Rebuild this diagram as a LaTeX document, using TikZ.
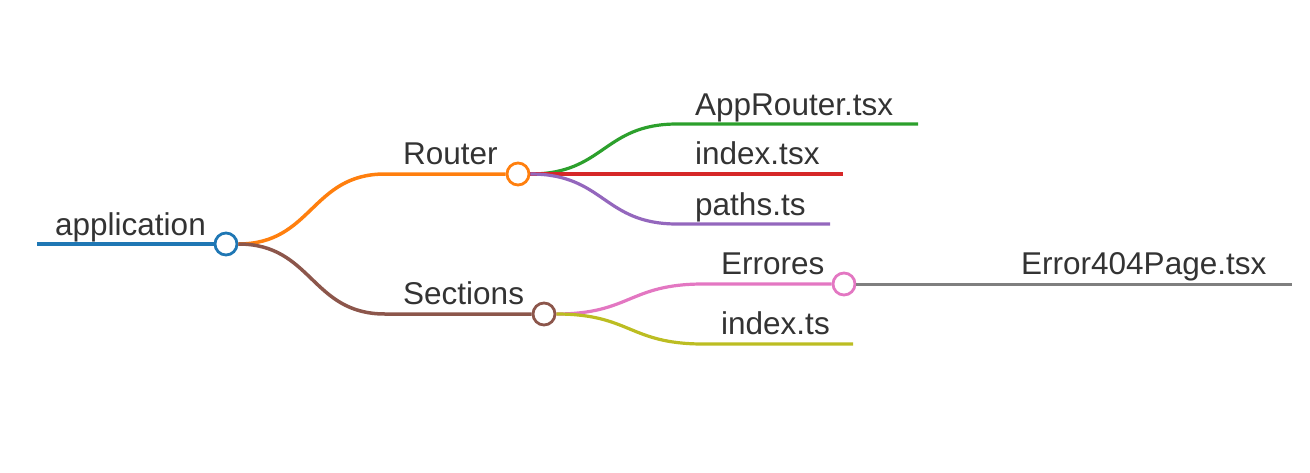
\documentclass[tikz,border=0pt]{standalone}
\usepackage{fontspec}
\setmainfont{Liberation Sans}
\usetikzlibrary{positioning}

\definecolor{ink}{HTML}{333333}
\definecolor{cblue}{HTML}{1F77B4}
\definecolor{corange}{HTML}{FF7F0E}
\definecolor{cgreen}{HTML}{2CA02C}
\definecolor{cred}{HTML}{D62728}
\definecolor{cpurple}{HTML}{9467BD}
\definecolor{cbrown}{HTML}{8C564B}
\definecolor{cpink}{HTML}{E377C2}
\definecolor{cgray}{HTML}{7F7F7F}
\definecolor{colive}{HTML}{BCBD22}

\begin{document}
\begin{tikzpicture}[%
x=1pt,
y=-1pt,
knob/.style={
circle,
draw,
fill=white,
line width=2.8pt,
minimum size=22pt,
inner sep=0pt,},
lbl/.style={
anchor=base west,
inner sep=0pt,
text=ink,
font=\fontsize{31.5}{38}\selectfont,},
wire/.style={
line width=3.2pt,}
]
\useasboundingbox (0,0) rectangle (1310,472);

% root
\coordinate (app0) at (37,244);
\node[knob,draw=cblue] (app) at (226,244) {};
\node[lbl] (apptxt) at (55,235) {application};
\draw[wire,cblue,line width=4.2pt] (app0) -- (app);

% Router
\coordinate (rt0) at (385,174);
\node[knob,draw=corange] (rt) at (518,174) {};
\node[lbl] (rttxt) at (403,164) {Router};
\draw[wire,corange,line width=3.5pt] (app.east) .. controls +(74,0) and +(-74,0) .. (rt0) -- (rt);

\coordinate (ar0) at (677,124);
\coordinate (ar1) at (918,124);
\node[lbl] (artxt) at (695,115) {AppRouter.tsx};
\draw[wire,cgreen] (rt.east) .. controls +(74,0) and +(-74,0) .. (ar0) -- (ar1);

\coordinate (ix0) at (677,174);
\coordinate (ix1) at (843,174);
\node[lbl] (ixtxt) at (695,164) {index.tsx};
\draw[wire,cred] (rt.east) -- (ix0) -- (ix1);

\coordinate (pt0) at (677,224);
\coordinate (pt1) at (830,224);
\node[lbl] (pttxt) at (695,215) {paths.ts};
\draw[wire,cpurple] (rt.east) .. controls +(74,0) and +(-74,0) .. (pt0) -- (pt1);

% Sections
\coordinate (sc0) at (385,314);
\node[knob,draw=cbrown] (sc) at (544,314) {};
\node[lbl] (sctxt) at (403,304) {Sections};
\draw[wire,cbrown,line width=3.5pt] (app.east) .. controls +(74,0) and +(-74,0) .. (sc0) -- (sc);

\coordinate (er0) at (703,284);
\node[knob,draw=cpink] (er) at (844,284) {};
\node[lbl] (ertxt) at (721,274) {Errores};
\draw[wire,cpink] (sc.east) .. controls +(74,0) and +(-74,0) .. (er0) -- (er);

\coordinate (e40) at (1003,284);
\coordinate (e41) at (1292,284);
\node[lbl] (e4txt) at (1021,274) {Error404Page.tsx};
\draw[wire,cgray,line width=3pt] (er.east) -- (e40) -- (e41);

\coordinate (it0) at (703,344);
\coordinate (it1) at (853,344);
\node[lbl] (ittxt) at (721,334) {index.ts};
\draw[wire,colive] (sc.east) .. controls +(74,0) and +(-74,0) .. (it0) -- (it1);
\end{tikzpicture}
\end{document}
